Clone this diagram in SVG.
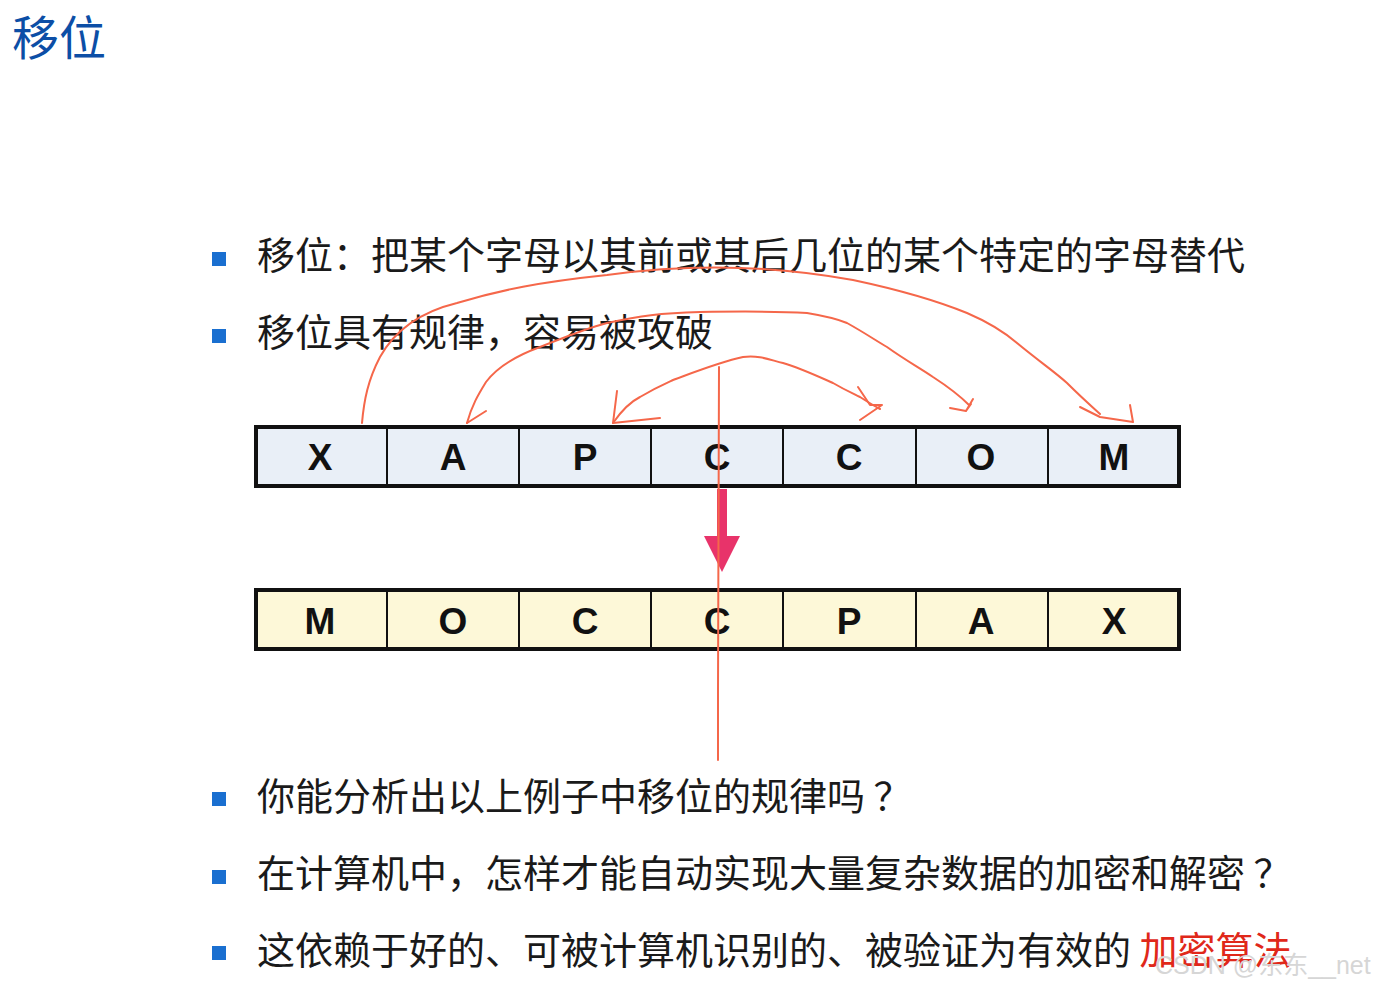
<svg xmlns="http://www.w3.org/2000/svg" width="1378" height="987" viewBox="0 0 1378 987">
<style>
.t{font-family:"Noto Sans CJK SC","Noto Sans",sans-serif;font-size:38px;fill:#1a1a1a}
.b{fill:#1a6fd0}
.cell{stroke:#111;stroke-width:2}
.outer{fill:none;stroke:#111;stroke-width:4}
.l{font-family:"Liberation Sans",Arial,sans-serif;font-weight:bold;font-size:37px;fill:#111;text-anchor:middle}
.ink{fill:none;stroke:#f5674a;stroke-width:2;stroke-linecap:round;stroke-linejoin:round}
</style>
<rect width="1378" height="987" fill="#fff"/>
<text x="12" y="55" style="font-family:'Noto Sans CJK SC',sans-serif;font-size:47px;fill:#0c4ea6">移位</text>
<g id="bullets">
<rect class="b" x="212" y="252" width="14" height="14"/>
<rect class="b" x="212" y="329" width="14" height="14"/>
<rect class="b" x="212" y="792" width="14" height="14"/>
<rect class="b" x="212" y="870" width="14" height="14"/>
<rect class="b" x="212" y="946" width="14" height="14"/>
</g>
<g id="texts">
<text class="t" x="257" y="269">移位：把某个字母以其前或其后几位的某个特定的字母替代</text>
<text class="t" x="257" y="346">移位具有规律，容易被攻破</text>
<text class="t" x="257" y="810">你能分析出以上例子中移位的规律吗 ？</text>
<text class="t" x="257" y="887">在计算机中，怎样才能自动实现大量复杂数据的加密和解密 ？</text>
<text class="t" x="257" y="964">这依赖于好的、可被计算机识别的、被验证为有效的 <tspan fill="#e0281a">加密算法</tspan></text>
</g>
<g id="row1">
<rect x="254" y="426" width="927" height="62" fill="#e9eff7"/>
<path class="cell" d="M387 426V488M519 426V488M651 426V488M783 426V488M916 426V488M1048 426V488"/>
<rect class="outer" x="256" y="427" width="923" height="59"/>
<text class="l" x="320" y="470">X</text>
<text class="l" x="453" y="470">A</text>
<text class="l" x="585" y="470">P</text>
<text class="l" x="717" y="470">C</text>
<text class="l" x="849" y="470">C</text>
<text class="l" x="981" y="470">O</text>
<text class="l" x="1114" y="470">M</text>
</g>
<g id="row2">
<rect x="254" y="589" width="927" height="62" fill="#fdf8d8"/>
<path class="cell" d="M387 589V651M519 589V651M651 589V651M783 589V651M916 589V651M1048 589V651"/>
<rect class="outer" x="256" y="590" width="923" height="59"/>
<text class="l" x="320" y="634">M</text>
<text class="l" x="453" y="634">O</text>
<text class="l" x="585" y="634">C</text>
<text class="l" x="717" y="634">C</text>
<text class="l" x="849" y="634">P</text>
<text class="l" x="981" y="634">A</text>
<text class="l" x="1114" y="634">X</text>
</g>
<g id="connectors">
<path d="M717 489V536h-13l18 36 18-36h-13V489z" fill="#e8336a"/>
<path class="ink" d="M362 423C364 400 368 380 380 357C395 330 420 312 457 303C500 290 540 282 607 275C680 265 760 263 853 280C900 290 935 300 967 313C995 325 1010 337 1017 343C1040 362 1055 372 1067 383C1080 396 1090 405 1100 414"/>
<path class="ink" d="M1080 407L1100 417L1133 422M1130 405L1133 422"/>
<path class="ink" d="M467 423C472 405 478 395 486 382C495 370 510 358 540 347C570 335 595 326 607 323C640 316 660 313 700 312C760 311 790 312 807 313C825 316 835 318 847 323C865 333 875 340 887 347C905 360 920 368 933 377C950 388 960 396 969 405"/>
<path class="ink" d="M467 423L486 411M950 408L966 411L973 399M966 411L971 404"/>
<path class="ink" d="M613 423C622 410 630 402 640 397C655 388 662 385 673 380C700 370 720 362 743 357C760 355 770 360 783 363C800 368 815 375 833 383C845 390 852 393 860 397C868 402 874 406 880 409"/>
<path class="ink" d="M617 391L613 423L660 418M858 387L870 405L882 405L860 420"/>
<path class="ink" d="M719 367C718 420 718 600 718 760"/>
</g>
<text x="1155" y="974" style="font-family:'Liberation Sans','Noto Sans CJK SC',sans-serif;font-size:25px;fill:#d6d6d6">CSDN @东东__net</text>
</svg>
